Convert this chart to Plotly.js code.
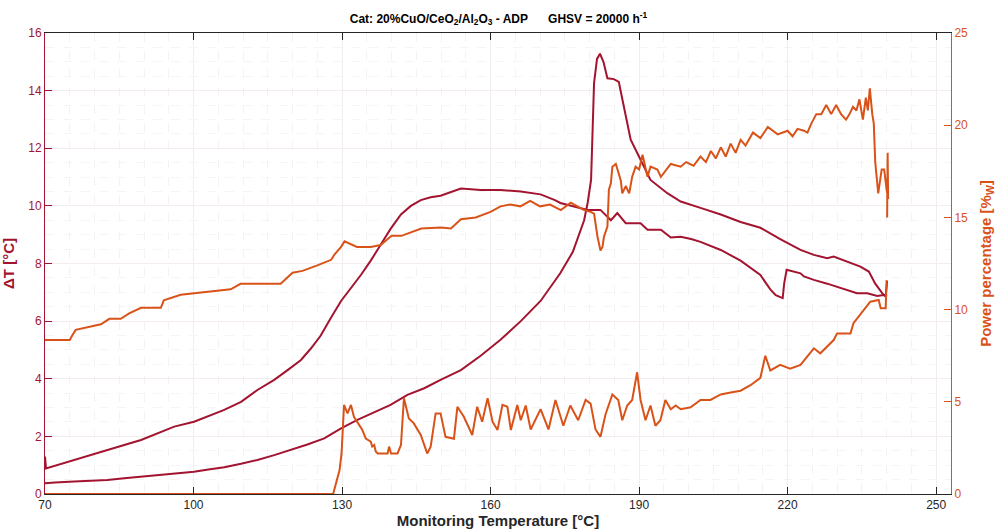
<!DOCTYPE html>
<html>
<head>
<meta charset="utf-8">
<script src="https://cdn.plot.ly/plotly-3.0.1.min.js"></script>
<style>html,body{margin:0;padding:0;background:#fff;}#chart{width:1001px;height:531px;}</style>
</head>
<body>
<div id="chart"></div>
<script>
// ΔT, heating branch
const tempDTUp = [70.0,72,75.9,79,82.6,86,89.4,93,96.1,100.1,103,106.2,109.6,112.9,116.3,119.6,123,126.4,129.8,133.1,136.5,139.8,143.2,146.6,149.9,154.0,158.0,162.0,166.1,170.1,173.0,174.1,176.6,178.0,178.9,179.6,180.3,180.9,181.5,182.1,182.8,183.6,184.9,185.9,186.9,188.3,190.3,192.3,195.7,198.4,202.4,206.5,210.5,214.5,218.5,222.6,225.3,228.0,229.3,232.0,234.7,236.4,237.7,239.1,239.8,240.1];
const dTUp = [0.37,0.40,0.43,0.45,0.49,0.55,0.60,0.66,0.72,0.77,0.85,0.93,1.05,1.18,1.35,1.53,1.72,1.93,2.28,2.57,2.83,3.09,3.44,3.67,3.96,4.3,4.8,5.35,6.0,6.7,7.4,7.67,8.4,9.05,9.5,10.1,10.9,14.26,15.1,15.28,15.0,14.43,14.4,14.3,13.45,12.3,11.6,10.9,10.44,10.15,9.93,9.7,9.44,9.24,8.85,8.47,8.3,8.18,8.24,8.07,7.89,7.72,7.3,6.97,6.85,7.4];
// ΔT, cooling branch
const tempDTDown = [240.1,239.0,238.1,236.1,234.0,232.0,230.0,228.0,225.3,223.3,222.6,220.5,219.8,219.3,219.0,217.6,216.5,214.5,212.5,210.5,206.5,202.4,200.5,198.4,196.4,194.4,191.7,190.3,187.3,185.6,184.3,182.2,179.6,176.6,174.1,173.0,170.1,166.1,162.0,158.0,154.0,149.9,147.9,145.9,143.9,141.9,139.8,137.8,135.8,133.8,131.8,129.8,127.7,125.7,123.7,121.7,119.0,116.3,112.9,109.6,106.2,103.0,100.1,96.1,92.7,89.4,86.0,82.6,79.2,75.9,73.0,70.2,70.0];
const dTDown = [6.9,6.9,6.87,6.97,6.97,7.08,7.2,7.3,7.43,7.55,7.66,7.75,7.78,7.3,6.8,6.9,7.1,7.6,7.85,8.1,8.47,8.75,8.85,8.93,8.9,9.17,9.17,9.4,9.4,9.75,9.5,9.86,9.86,9.98,10.1,10.2,10.4,10.5,10.55,10.55,10.6,10.35,10.3,10.2,10.0,9.7,9.2,8.65,8.1,7.6,7.15,6.7,6.1,5.5,5.05,4.65,4.3,3.96,3.61,3.2,2.92,2.7,2.51,2.34,2.1,1.875,1.7,1.53,1.35,1.18,1.03,0.89,1.3];
// Power, heating branch
const tempPUp = [70,128.2,129.0,129.5,129.9,130.4,131.1,131.8,132.4,133.1,134.1,134.8,135.8,136.1,136.5,136.8,137.2,139.2,139.5,139.9,141.2,141.9,142.5,143.5,144.5,145.9,147.2,147.9,148.9,149.9,150.9,152.6,153.3,154.6,156.3,157.3,158.3,159.4,160.4,161.4,162.4,163.4,164.1,165.4,166.1,167.1,168.1,170.1,171.7,173.1,174.7,176.1,177.7,179.2,180.2,181.2,182.2,183.2,184.6,185.8,186.6,187.6,188.6,189.6,190.3,191.3,192.3,193.3,194.3,195.3,196.4,197.4,198.4,200.4,202.4,204.4,206.5,208.5,210.5,212.5,214.5,215.5,216.5,218.5,220.5,222.6,224.0,225.3,226.6,228.0,229.3,230.0,232.7,233.3,234.3,235.4,236.7,238.4,238.8,239.8,240.0];
const powUp = [0,0,0.8,1.3,2.2,4.83,4.37,4.83,4.19,3.92,3.47,3.0,2.84,2.57,2.66,2.3,2.2,2.2,2.57,2.2,2.2,2.66,5.19,4.1,3.83,3.2,2.2,2.57,4.37,4.37,3.1,3.0,4.73,4.19,3.2,4.73,3.92,5.19,3.92,3.47,4.83,4.73,3.47,4.83,4.0,4.8,3.5,4.6,3.5,5.1,3.7,4.8,4.0,5.1,4.9,3.5,3.1,4.3,5.4,5.1,4.0,4.8,5.1,6.6,5.1,4.0,4.8,3.7,4.0,5.1,4.6,4.8,4.6,4.7,5.1,5.1,5.4,5.5,5.6,5.9,6.3,7.5,6.7,7.0,6.8,7.0,7.45,7.9,7.63,7.99,8.35,8.71,8.71,9.26,9.62,9.98,10.43,10.52,10.07,10.07,11.6];
// Power, cooling branch
const tempPDown = [240.1,240.2,240.3,240.0,239.5,239.0,238.3,238.0,237.7,237.4,237.1,236.6,236.2,235.8,235.2,234.5,233.9,233.2,232.5,231.8,230.8,229.8,228.8,227.8,226.8,225.8,224.8,224.0,223.3,222,221,220,218,216,214.5,213,211.5,210.5,209.5,208.5,207.5,206.5,205.5,204.5,203.5,202.4,201,199.5,198.4,196.4,194.4,193.7,192.3,191.7,190.7,190.0,189.3,188.6,188.0,187.3,186.6,186.3,185.6,185.3,184.6,184.3,183.9,183.6,182.9,182.6,182.2,181.6,180.9,180.2,178.9,177.5,176.2,174.2,172,170,168,166,164,162,160,157,154,152,150,146,142,140,137.8,135.8,133,130.5,129.8,128.5,127.8,125,122,120,117.6,113,109.5,107.5,101.5,97.4,94,93.4,89.4,87,85.3,83,81.3,76.2,75.5,75,70];
const powDown = [15.0,18.5,16.0,16.5,17.6,17.6,16.3,17.0,18.0,20.1,20.6,22.0,20.8,21.5,20.3,21.4,20.8,21.0,20.6,20.3,20.6,21.1,20.6,21.1,20.6,20.6,20.1,19.6,19.7,19.8,19.4,19.7,19.5,19.9,19.3,19.6,18.9,19.2,18.5,19.0,18.3,18.8,18.2,18.6,18.0,18.3,17.8,18.0,17.75,17.9,17.2,17.6,17.75,17.2,18.4,17.6,17.75,17.2,16.3,16.7,16.3,17.0,17.6,17.9,17.75,16.85,16.5,14.5,13.95,13.4,13.2,13.95,15.2,15.3,15.4,15.6,15.8,15.4,15.7,15.6,15.9,15.6,15.7,15.6,15.3,15.0,14.9,14.4,14.45,14.4,14.0,14.0,13.5,13.4,13.4,13.7,13.4,13.0,12.7,12.4,12.1,12.0,11.4,11.4,11.4,11.1,10.9,10.8,10.5,10.1,10.1,9.8,9.5,9.5,9.2,8.9,8.6,8.35,8.35];

const xTicks = [70,100,130,160,190,220,250];
const dtColor = '#A2142F';
const pwColor = '#D95319';
const font = 'Liberation Sans, Arial, Helvetica, sans-serif';

const traces = [
  {x: tempDTUp, y: dTUp, mode: 'lines', line: {color: dtColor, width: 2}, yaxis: 'y', hoverinfo: 'skip'},
  {x: tempDTDown, y: dTDown, mode: 'lines', line: {color: dtColor, width: 2}, yaxis: 'y', hoverinfo: 'skip'},
  {x: tempPUp, y: powUp, mode: 'lines', line: {color: pwColor, width: 2}, yaxis: 'y2', hoverinfo: 'skip'},
  {x: tempPDown, y: powDown, mode: 'lines', line: {color: pwColor, width: 2}, yaxis: 'y2', hoverinfo: 'skip'}
];

const layout = {
  width: 1001, height: 531,
  margin: {l: 45, r: 50, t: 33, b: 37, pad: 0},
  paper_bgcolor: '#fff', plot_bgcolor: '#fff',
  showlegend: false,
  font: {family: font, size: 12, color: '#262626'},
  title: {text: '<b>Cat: 20%CuO/CeO<sub>2</sub>/Al<sub>2</sub>O<sub>3</sub> - ADP\u00a0\u00a0\u00a0\u00a0\u00a0\u00a0GHSV = 20000 h<sup>-1</sup></b>',
          font: {family: font, size: 12, color: '#000'}, x: 0.498, xanchor: 'center', y: 0.965, yanchor: 'middle'},
  xaxis: {
    range: [70, 253], tickvals: xTicks, ticktext: xTicks.map(String),
    ticks: 'inside', ticklen: 7, tickcolor: '#262626', tickwidth: 1,
    showline: true, linecolor: '#262626', linewidth: 1, mirror: 'ticks',
    showgrid: true, gridcolor: '#eeeeee', gridwidth: 1,
    minor: {dtick: 5, showgrid: true, gridcolor: '#f3f3f3', griddash: 'dash', ticks: ''},
    zeroline: false,
    tickfont: {family: font, size: 12, color: '#262626'},
    title: {text: '<b>Monitoring Temperature [°C]</b>', font: {family: font, size: 15, color: '#262626'}, standoff: 3}
  },
  yaxis: {
    range: [0, 16], dtick: 2, tick0: 0,
    ticks: 'inside', ticklen: 7, tickcolor: dtColor,
    showline: true, linecolor: dtColor, linewidth: 1,
    showgrid: true, gridcolor: '#f4eced',
    minor: {dtick: 0.5, showgrid: true, gridcolor: '#f8f3f4', griddash: 'dash', ticks: ''},
    zeroline: false,
    tickfont: {family: font, size: 12, color: dtColor},
    title: {text: '<b>\u0394T [°C]</b>', font: {family: font, size: 15, color: dtColor}, standoff: 12}
  },
  yaxis2: {
    range: [0, 25], dtick: 5, tick0: 0, overlaying: 'y', side: 'right',
    ticks: 'inside', ticklen: 7, tickcolor: pwColor,
    showline: true, linecolor: pwColor, linewidth: 1,
    showgrid: false, zeroline: false,
    tickfont: {family: font, size: 12, color: pwColor},
    title: {text: '<b>Power percentage [%<sub>W</sub>]</b>', font: {family: font, size: 15, color: pwColor}, standoff: 13}
  }
};

Plotly.newPlot('chart', traces, layout, {displayModeBar: false, staticPlot: true});
</script>
</body>
</html>
